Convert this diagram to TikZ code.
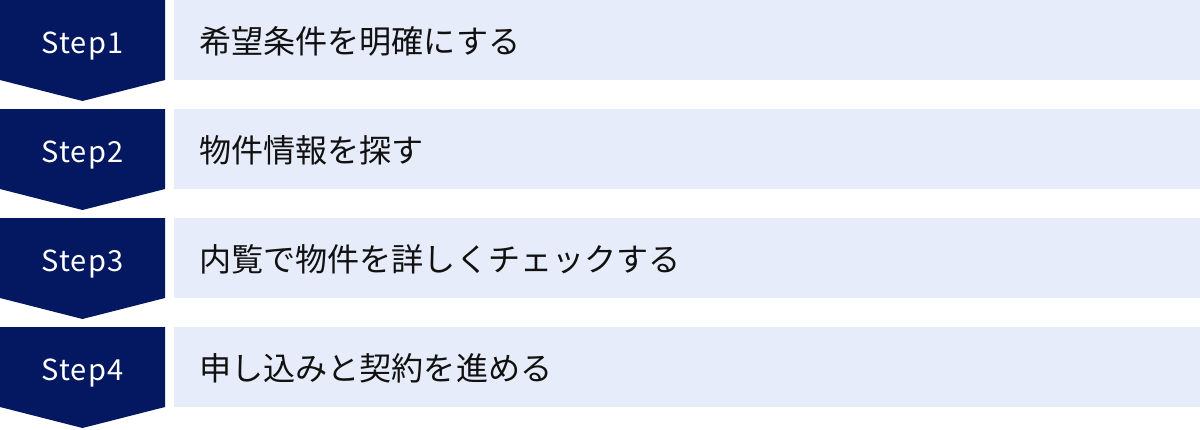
\documentclass[tikz,border=0pt]{standalone}
\usepackage{fontspec}
\setmainfont{Noto Sans CJK JP}
\newfontfamily\stepfont[LetterSpace=4]{Noto Sans CJK JP}
\definecolor{navy}{HTML}{041861}
\definecolor{pale}{HTML}{E6ECF9}
\definecolor{ink}{HTML}{111111}
\begin{document}
\begin{tikzpicture}[x=1pt,y=-1pt,
  stepshape/.style={fill=navy},
  panel/.style={fill=pale},
  steplabel/.style={anchor=base,text=white,inner sep=0pt,font=\stepfont\fontsize{29}{34}\selectfont},
  tasklabel/.style={anchor=base west,text=ink,inner sep=0pt,font=\fontsize{32.1}{38}\selectfont}]
\useasboundingbox (0,0) rectangle (1200,429);
\foreach \i/\t [evaluate=\i as \y using {(\i-1)*109}] in {1/希望条件を明確にする,2/物件情報を探す,3/内覧で物件を詳しくチェックする,4/申し込みと契約を進める}{
  \path[stepshape] (0,\y) -- (165,\y) -- (165,\y+80) -- (82.5,\y+101) -- (0,\y+80) -- cycle;
  \path[panel] (174,\y) rectangle (1200,\y+80);
  \node[steplabel] (step\i) at (82.5,\y+53.5) {Step\i};
  \node[tasklabel] (task\i) at (199,\y+53.8) {\t};
}
\end{tikzpicture}
\end{document}
